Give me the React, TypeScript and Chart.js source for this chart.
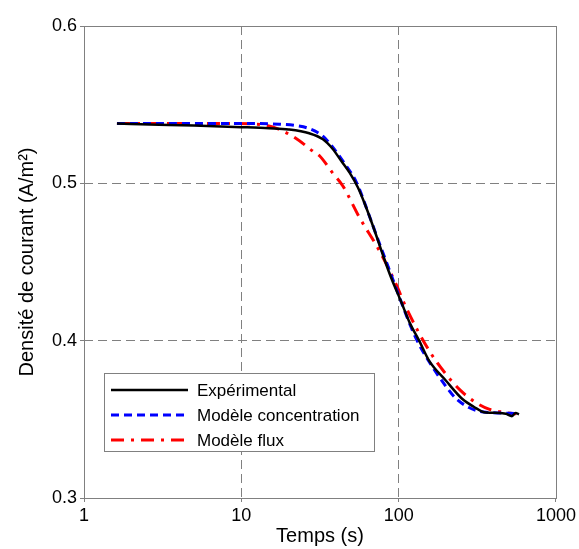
import React, { useEffect, useRef } from 'react';
import { Chart, registerables } from 'chart.js';

Chart.register(...registerables);

// ---- Data ----
const experimentalTime = [1.62, 3, 5, 10, 15, 20, 27, 33, 38, 43, 49, 55, 62, 70, 80, 90, 103, 118, 135, 156, 200, 253, 300, 358, 434, 480, 525, 554, 582];
const experimentalValue = [0.538, 0.5373, 0.5367, 0.5357, 0.535, 0.5342, 0.5318, 0.528, 0.522, 0.5145, 0.5065, 0.4975, 0.485, 0.4705, 0.4535, 0.4395, 0.4255, 0.411, 0.4, 0.3873, 0.3745, 0.3631, 0.358, 0.3543, 0.3541, 0.3535, 0.352, 0.3541, 0.3532];

const concentrationTime = [1.62, 5, 10, 17.5, 23, 27, 33, 38, 45, 54, 65, 75, 88, 103, 120, 135, 160, 195, 230, 280, 330, 375, 450, 554];
const concentrationValue = [0.538, 0.538, 0.538, 0.5376, 0.5365, 0.5348, 0.53, 0.5231, 0.513, 0.5005, 0.4795, 0.4625, 0.444, 0.4255, 0.4085, 0.3975, 0.385, 0.3724, 0.3635, 0.3575, 0.355, 0.3543, 0.354, 0.3537];

const fluxTime = [1.62, 5, 8.4, 11.3, 15.8, 22.3, 28.4, 31.4, 38.1, 44.1, 56.2, 75.3, 96.1, 111.3, 156.4, 199.5, 248, 309, 375, 479, 560];
const fluxValue = [0.538, 0.538, 0.538, 0.5378, 0.5359, 0.5285, 0.5205, 0.5175, 0.5065, 0.4985, 0.4785, 0.4573, 0.4361, 0.4212, 0.3936, 0.3788, 0.3682, 0.3607, 0.3565, 0.3543, 0.3535];

const seriesNames = ['Expérimental', 'Modèle concentration', 'Modèle flux'];
const xTickValues = [1, 10, 100, 1000];
const yTickValues = [0.3, 0.4, 0.5, 0.6];
const xAxisTitle = 'Temps (s)';
const yAxisTitle = 'Densité de courant (A/m²)';

const FONT = '"Liberation Sans", Arial, sans-serif';
const GRID = '#808080';

const toPoints = (t: number[], v: number[]) => t.map((x, i) => ({ x, y: v[i] }));

const framePlugin = {
  id: 'frame',
  beforeDatasetsDraw(chart: any) {
    const { ctx, chartArea: a } = chart;
    ctx.save();
    ctx.strokeStyle = GRID;
    ctx.lineWidth = 1;
    ctx.setLineDash([]);
    ctx.strokeRect(Math.round(a.left) + 0.5, Math.round(a.top) + 0.5, Math.round(a.right - a.left), Math.round(a.bottom - a.top));
    ctx.restore();
  },
};

const legendPlugin = {
  id: 'boxLegend',
  afterDatasetsDraw(chart: any) {
    const { ctx, chartArea: a } = chart;
    const x0 = Math.round(a.left) + 20;
    const y0 = Math.round(a.top) + 347;
    ctx.save();
    ctx.font = `17px ${FONT}`;
    const textOffset = 93;
    const rowH = 25;
    const widths = chart.data.datasets.map((d: any) => ctx.measureText(d.label).width);
    const w = Math.round(textOffset + Math.max(...widths) + 14);
    const h = 78;
    ctx.fillStyle = '#fff';
    ctx.fillRect(x0, y0, w, h);
    ctx.strokeStyle = GRID;
    ctx.lineWidth = 1;
    ctx.setLineDash([]);
    ctx.strokeRect(x0 + 0.5, y0 + 0.5, w, h);
    chart.data.datasets.forEach((d: any, i: number) => {
      const y = y0 + 17 + i * rowH;
      ctx.beginPath();
      ctx.setLineDash(d.borderDash || []);
      ctx.strokeStyle = d.borderColor;
      ctx.lineWidth = d.borderWidth;
      ctx.moveTo(x0 + 7, y);
      ctx.lineTo(x0 + 84, y);
      ctx.stroke();
      ctx.setLineDash([]);
      ctx.fillStyle = '#000';
      ctx.textBaseline = 'middle';
      ctx.textAlign = 'left';
      ctx.fillText(d.label, x0 + textOffset, y + 1);
    });
    ctx.restore();
  },
};

export default function App() {
  const canvasRef = useRef<HTMLCanvasElement | null>(null);

  useEffect(() => {
    if (!canvasRef.current) return;
    const edgeAware = (lastIndex: number) => (ctx: any) =>
      ctx.index === 0 || ctx.index === lastIndex ? 'rgba(0,0,0,0)' : GRID;

    const chart = new Chart(canvasRef.current, {
      type: 'line',
      data: {
        datasets: [
          {
            label: seriesNames[0],
            data: toPoints(experimentalTime, experimentalValue),
            borderColor: '#000000',
            borderWidth: 2.5,
            borderDash: [],
            cubicInterpolationMode: 'monotone',
            pointRadius: 0,
            fill: false,
          },
          {
            label: seriesNames[1],
            data: toPoints(concentrationTime, concentrationValue),
            borderColor: '#0000ff',
            borderWidth: 3,
            borderDash: [8, 5],
            cubicInterpolationMode: 'monotone',
            pointRadius: 0,
            fill: false,
          },
          {
            label: seriesNames[2],
            data: toPoints(fluxTime, fluxValue),
            borderColor: '#ff0000',
            borderWidth: 3,
            borderDash: [13, 7, 3, 7],
            cubicInterpolationMode: 'monotone',
            pointRadius: 0,
            fill: false,
          },
        ],
      },
      options: {
        animation: false,
        responsive: false,
        maintainAspectRatio: false,
        layout: { padding: { left: 0, right: 22, top: 26, bottom: 0 } },
        plugins: {
          legend: { display: false },
          tooltip: { enabled: false },
        },
        scales: {
          x: {
            type: 'logarithmic',
            position: 'bottom',
            min: 1,
            max: 1000,
            afterBuildTicks: (s: any) => {
              s.ticks = xTickValues.map((v) => ({ value: v }));
            },
            afterFit: (s: any) => {
              s.height = 51;
            },
            ticks: {
              autoSkip: false,
              maxRotation: 0,
              padding: 3,
              color: '#000',
              font: { family: FONT, size: 18 },
              callback: (v: any) => String(v),
            },
            grid: {
              color: edgeAware(xTickValues.length - 1),
              lineWidth: 1,
              tickLength: 4,
              tickColor: GRID,
              tickBorderDash: [],
            },
            border: { display: false, dash: [9, 5] },
            title: {
              display: true,
              text: xAxisTitle,
              color: '#000',
              font: { family: FONT, size: 20 },
              padding: { top: 0, bottom: 1 },
            },
          },
          y: {
            type: 'linear',
            min: 0.3,
            max: 0.6,
            afterBuildTicks: (s: any) => {
              s.ticks = yTickValues.map((v) => ({ value: v }));
            },
            afterFit: (s: any) => {
              s.width = 84;
            },
            ticks: {
              padding: 3,
              color: '#000',
              font: { family: FONT, size: 18 },
              callback: (v: any) => Number(v).toFixed(1),
            },
            grid: {
              color: edgeAware(yTickValues.length - 1),
              lineWidth: 1,
              tickLength: 4,
              tickColor: GRID,
              tickBorderDash: [],
            },
            border: { display: false, dash: [9, 5] },
            title: {
              display: true,
              text: yAxisTitle,
              color: '#000',
              font: { family: FONT, size: 20 },
              padding: { top: 15, bottom: 0 },
            },
          },
        },
      },
      plugins: [framePlugin, legendPlugin],
    } as any);

    return () => chart.destroy();
  }, []);

  return (
    <div style={{ position: 'absolute', left: 0, top: 0, width: 579, height: 549, background: '#fff' }}>
      <canvas ref={canvasRef} width={579} height={549} style={{ display: 'block' }} />
    </div>
  );
}
